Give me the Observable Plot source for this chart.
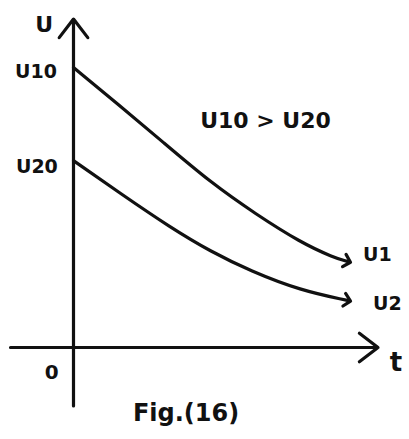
<!DOCTYPE html>
<html>
<head>
<meta charset="utf-8">
<script src="https://cdn.jsdelivr.net/npm/d3@7"></script>
<script src="https://cdn.jsdelivr.net/npm/@observablehq/plot@0.6"></script>
<style>
  html, body { margin: 0; padding: 0; background: #fff; }
  svg { display: block; }
</style>
</head>
<body>
<div id="chart"></div>
<script>
// Decay of two quantities U1 and U2 with time t (U10 > U20)
const t1 = [0, 1.5, 3.0, 4.57, 6.07, 7.57, 8.67, 9.13];
const u1 = [9.33, 8.1, 6.83, 5.5, 4.45, 3.5, 3.0, 2.87];
const t2 = [0, 1.57, 3.23, 4.57, 5.9, 7.57, 9.13];
const u2 = [6.23, 5.13, 4.0, 3.2, 2.55, 1.9, 1.57];

// axis extents (data units)
const tAxis = [-2.1, 10.15];
const uAxis = [-1.95, 10.95];

const seriesLabels = ["U1", "U2"];
const startLabels = ["U10", "U20"];
const relation = "U10 > U20";
const axisNames = {u: "U", t: "t", origin: "0"};
const caption = "Fig.(16)";

const ink = "#111";
const font = "DejaVu Sans";
const weight = 600;

const line1 = t1.map((t, i) => ({t, u: u1[i]}));
const line2 = t2.map((t, i) => ({t, u: u2[i]}));
const last1 = line1[line1.length - 1];
const last2 = line2[line2.length - 1];

const label = (data, opts) => Plot.text(data, {text: d => d, fill: ink, fontWeight: weight, textAnchor: "middle", ...opts});

const chart = Plot.plot({
  width: 409,
  height: 439,
  marginTop: 0, marginRight: 0, marginBottom: 0, marginLeft: 0,
  style: {background: "#fff", fontFamily: font},
  x: {domain: [-73 / 30, 336 / 30], axis: null},
  y: {domain: [-92 / 30, 347 / 30], axis: null},
  marks: [
    // axes drawn as arrows
    Plot.arrow([{x1: tAxis[0], y1: 0, x2: tAxis[1], y2: 0}], {
      x1: "x1", y1: "y1", x2: "x2", y2: "y2",
      stroke: ink, strokeWidth: 3.2, headLength: 11, headAngle: 75
    }),
    Plot.arrow([{x1: 0, y1: uAxis[0], x2: 0, y2: uAxis[1]}], {
      x1: "x1", y1: "y1", x2: "x2", y2: "y2",
      stroke: ink, strokeWidth: 3.2, headLength: 11, headAngle: 75
    }),
    // the two curves
    Plot.line(line1, {x: "t", y: "u", curve: "basis", stroke: ink, strokeWidth: 3.2, markerEnd: "arrow"}),
    Plot.line(line2, {x: "t", y: "u", curve: "basis", stroke: ink, strokeWidth: 3.2, markerEnd: "arrow"}),
    // initial values on the U axis
    label([startLabels[0]], {x: -1.25, y: u1[0], dy: 4, fontSize: 19}),
    label([startLabels[1]], {x: -1.22, y: u2[0], dy: 6, fontSize: 19}),
    // curve names at the arrow tips
    label([seriesLabels[0]], {x: last1.t, y: last1.u, dx: 30, dy: -6, fontSize: 19}),
    label([seriesLabels[1]], {x: last2.t, y: last2.u, dx: 40, dy: 4, fontSize: 19}),
    // relation between the initial values
    label([relation], {x: 6.4, y: 7.55, fontSize: 22}),
    // axis names and origin
    label([axisNames.u], {x: -0.98, y: uAxis[1] - 0.2, fontSize: 22}),
    label([axisNames.t], {x: tAxis[1] + 0.6, y: -0.5, fontSize: 26}),
    label([axisNames.origin], {x: -0.73, y: -0.85, fontSize: 20}),
    // figure caption
    label([caption], {x: 3.75, y: -2.2, fontSize: 24})
  ]
});

document.getElementById("chart").append(chart);
</script>
</body>
</html>
